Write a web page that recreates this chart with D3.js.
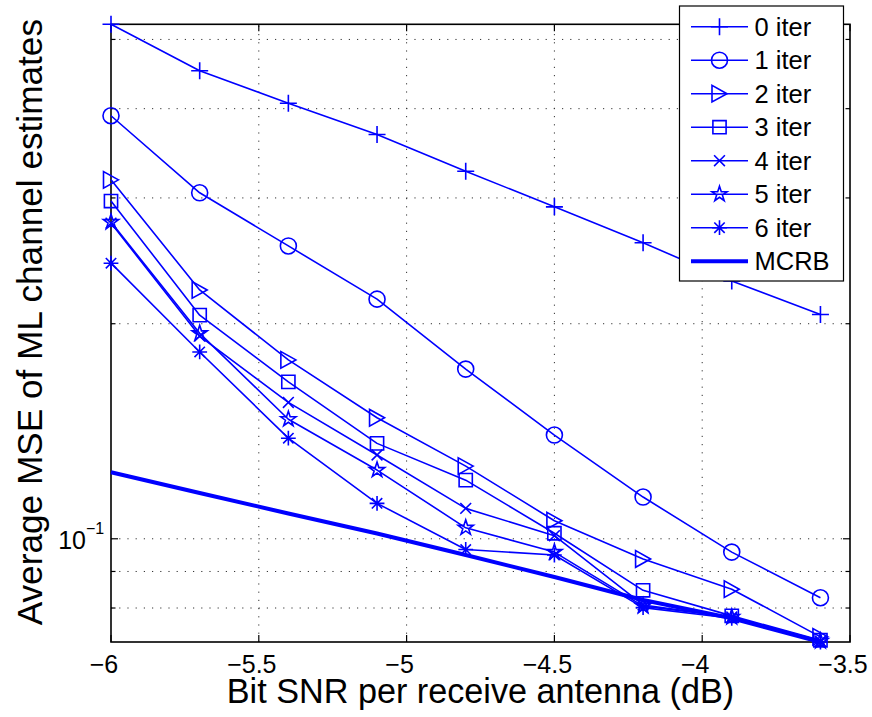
<!DOCTYPE html>
<html>
<head>
<meta charset="utf-8">
<script src="https://cdn.jsdelivr.net/npm/d3@7"></script>
<style>
  html, body { margin: 0; padding: 0; background: #fff; }
  svg { display: block; font-family: "Liberation Sans", Arial, Helvetica, sans-serif; }
</style>
</head>
<body>
<svg id="chart" width="872" height="717"></svg>
<script>
// Bit SNR per receive antenna (dB)
const snr = [-6, -5.7, -5.4, -5.1, -4.8, -4.5, -4.2, -3.9, -3.6];

// Average MSE of the ML channel estimates after each decoder iteration
const iter0 = [0.525, 0.452, 0.407, 0.368, 0.327, 0.2915, 0.2596, 0.2295, 0.206];
const iter1 = [0.391, 0.305, 0.257, 0.2165, 0.1728, 0.1397, 0.1144, 0.0958, 0.0827];
const iter2 = [0.318, 0.223, 0.178, 0.1477, 0.1264, 0.106, 0.0937, 0.085, 0.0729];
const iter3 = [0.297, 0.2056, 0.1658, 0.136, 0.1208, 0.1018, 0.0847, 0.078, 0.0721];
const iter4 = [0.2766, 0.1922, 0.1552, 0.131, 0.1103, 0.101, 0.0808, 0.0777, 0.0719];
const iter5 = [0.2775, 0.1939, 0.147, 0.1248, 0.1036, 0.0958, 0.0805, 0.0777, 0.0719];
const iter6 = [0.2431, 0.1826, 0.1383, 0.1121, 0.0966, 0.0949, 0.0801, 0.0774, 0.0717];
// Modified Cramer-Rao bound
const mcrb  = [0.1239, 0.1159, 0.1085, 0.1017, 0.0949, 0.0884, 0.0821, 0.0774, 0.0717];

const seriesNames = ["0 iter", "1 iter", "2 iter", "3 iter", "4 iter", "5 iter", "6 iter", "MCRB"];
const seriesValues = [iter0, iter1, iter2, iter3, iter4, iter5, iter6, mcrb];
const seriesMarkers = ["plus", "circle", "triright", "square", "cross", "star", "asterisk", null];

const xTicks = [-6, -5.5, -5, -4.5, -4, -3.5];
const yMajorTicks = [0.1];
const yMinorTicks = [0.08, 0.09, 0.2, 0.3, 0.4, 0.5];

const BLUE = "#0000ff";
const plotLeft = 111, plotRight = 850, plotTop = 24.3, plotBottom = 642;

const svg = d3.select("#chart");

const x = d3.scaleLinear().domain([-6, -3.5]).range([plotLeft, plotRight]);
const y = d3.scaleLog().domain([0.0717, 0.525]).range([plotBottom, plotTop]);

// marker path builders, centred on the origin
const markerPath = {
  plus: () => "M-8.5,0H8.5M0,-8.5V8.5",
  circle: () => "M8,0A8,8 0 1,1 -8,0A8,8 0 1,1 8,0Z",
  triright: () => "M7.5,0L-7.5,-8.3L-7.5,8.3Z",
  square: () => "M-6.6,-6.6H6.6V6.6H-6.6Z",
  cross: () => "M-5.4,-5.4L5.4,5.4M-5.4,5.4L5.4,-5.4",
  asterisk: () => "M-7.4,0H7.4M0,-7.4V7.4M-5.2,-5.2L5.2,5.2M-5.2,5.2L5.2,-5.2",
  star: () => {
    const R = 8, r = R * 0.382, pts = [];
    for (let i = 0; i < 10; i++) {
      const a = -Math.PI / 2 + i * Math.PI / 5;
      const rad = i % 2 === 0 ? R : r;
      pts.push([rad * Math.cos(a), rad * Math.sin(a)]);
    }
    return "M" + pts.map(p => p[0].toFixed(2) + "," + p[1].toFixed(2)).join("L") + "Z";
  }
};

// grid (dotted)
const grid = svg.append("g").attr("stroke", "#333").attr("stroke-width", 1)
  .attr("stroke-dasharray", "1.2,7").attr("fill", "none");
xTicks.slice(1, -1).forEach(t => {
  grid.append("line").attr("x1", x(t)).attr("x2", x(t)).attr("y1", plotBottom).attr("y2", plotTop);
});
yMajorTicks.concat(yMinorTicks).forEach(t => {
  grid.append("line").attr("x1", plotLeft).attr("x2", plotRight).attr("y1", y(t)).attr("y2", y(t));
});

// x tick labels
const xAxisBottom = d3.axisBottom(x).tickValues(xTicks).tickSize(0).tickPadding(0)
  .tickFormat(d => d3.format("")(d).replace("-", "\u2212"));
const gx = svg.append("g").attr("transform", `translate(0,${plotBottom})`).call(xAxisBottom);
gx.select(".domain").remove();
gx.selectAll("text").attr("font-size", 25).attr("fill", "#000")
  .attr("font-family", "Liberation Sans, Arial, sans-serif")
  .attr("dy", null).attr("y", 31).attr("dx", -7.5);

// ticks inside the box
const tickG = svg.append("g").attr("stroke", "#000").attr("stroke-width", 1.2);
xTicks.forEach(t => {
  tickG.append("line").attr("x1", x(t)).attr("x2", x(t)).attr("y1", plotBottom).attr("y2", plotBottom - 7);
  tickG.append("line").attr("x1", x(t)).attr("x2", x(t)).attr("y1", plotTop).attr("y2", plotTop + 7);
});
yMajorTicks.forEach(t => {
  tickG.append("line").attr("x1", plotLeft).attr("x2", plotLeft + 7).attr("y1", y(t)).attr("y2", y(t));
  tickG.append("line").attr("x1", plotRight).attr("x2", plotRight - 7).attr("y1", y(t)).attr("y2", y(t));
});
yMinorTicks.forEach(t => {
  tickG.append("line").attr("x1", plotLeft).attr("x2", plotLeft + 4.5).attr("y1", y(t)).attr("y2", y(t));
  tickG.append("line").attr("x1", plotRight).attr("x2", plotRight - 4.5).attr("y1", y(t)).attr("y2", y(t));
});

// box
svg.append("rect").attr("x", plotLeft).attr("y", plotTop)
  .attr("width", plotRight - plotLeft).attr("height", plotBottom - plotTop)
  .attr("fill", "none").attr("stroke", "#000").attr("stroke-width", 1.6);

// y tick label 10^-1
yMajorTicks.forEach(t => {
  svg.append("text").attr("x", 86).attr("y", y(t) + 10).attr("text-anchor", "end")
    .attr("font-size", 25).attr("fill", "#000").text("10");
  svg.append("text").attr("x", 86).attr("y", y(t) - 5).attr("font-size", 16).attr("fill", "#000")
    .text("\u22121");
});

// axis titles
svg.append("text").attr("x", (plotLeft + plotRight) / 2).attr("y", 703).attr("text-anchor", "middle")
  .attr("font-size", 34.2).attr("fill", "#000").text("Bit SNR per receive antenna (dB)");
svg.append("text").attr("transform", `translate(42,${(plotTop + plotBottom) / 2 - 11}) rotate(-90)`)
  .attr("text-anchor", "middle").attr("font-size", 35.2).attr("fill", "#000")
  .text("Average MSE of ML channel estimates");

// series
const line = d3.line().x(d => x(d[0])).y(d => y(d[1]));
seriesValues.forEach((vals, i) => {
  const pts = snr.map((s, k) => [s, vals[k]]);
  const isBound = seriesMarkers[i] === null;
  svg.append("path").datum(pts).attr("d", line).attr("fill", "none")
    .attr("stroke", BLUE).attr("stroke-width", isBound ? 4 : 1.6).attr("stroke-linejoin", "round");
  if (!isBound) {
    svg.append("g").selectAll("path").data(pts).join("path")
      .attr("transform", d => `translate(${x(d[0])},${y(d[1])})`)
      .attr("d", markerPath[seriesMarkers[i]]())
      .attr("fill", "none").attr("stroke", BLUE).attr("stroke-width", 1.6);
  }
});

// legend
const lg = svg.append("g");
lg.append("rect").attr("x", 679.5).attr("y", 6).attr("width", 164).attr("height", 275)
  .attr("fill", "#fff").attr("stroke", "#000").attr("stroke-width", 1.2);
seriesNames.forEach((name, i) => {
  const ry = 26.7 + i * 33.5;
  const isBound = seriesMarkers[i] === null;
  lg.append("line").attr("x1", 691).attr("x2", 748).attr("y1", ry).attr("y2", ry)
    .attr("stroke", BLUE).attr("stroke-width", isBound ? 4 : 1.6);
  if (!isBound) {
    lg.append("path").attr("transform", `translate(719.5,${ry})`)
      .attr("d", markerPath[seriesMarkers[i]]())
      .attr("fill", "none").attr("stroke", BLUE).attr("stroke-width", 1.6);
  }
  lg.append("text").attr("x", 754.5).attr("y", ry + 9).attr("font-size", 25.5).attr("fill", "#000").text(name);
});
</script>
</body>
</html>
